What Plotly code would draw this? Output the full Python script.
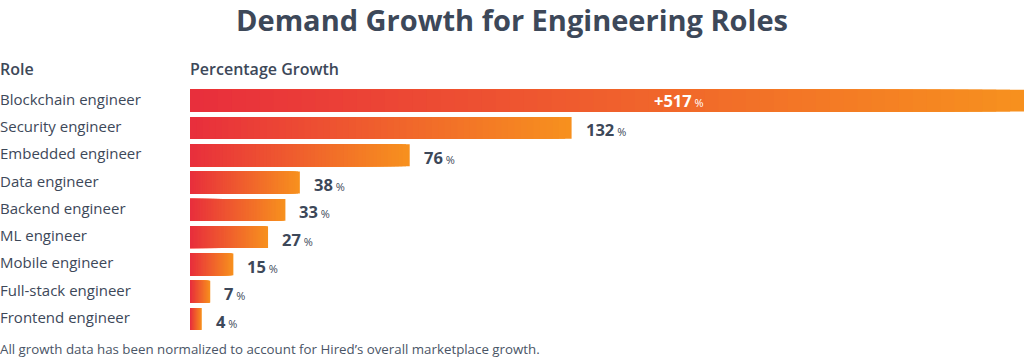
import plotly.graph_objects as go

roles = ["Blockchain engineer", "Security engineer", "Embedded engineer", "Data engineer",
         "Backend engineer", "ML engineer", "Mobile engineer", "Full-stack engineer", "Frontend engineer"]
growth = [517, 132, 76, 38, 33, 27, 15, 7, 4]
value_labels = ["+517", "132", "76", "38", "33", "27", "15", "7", "4"]

TITLE = "Demand Growth for Engineering Roles"
FOOTNOTE = "All growth data has been normalized to account for Hired\u2019s overall marketplace growth."
X_MAX = 288.5  # visible axis range; the blockchain bar runs off the edge

RED = (232, 46, 60)
ORANGE = (247, 145, 30)
TEXT = "#3d4859"
FONT = "Open Sans"


def mix(t):
    c = [round(RED[i] + (ORANGE[i] - RED[i]) * t) for i in range(3)]
    return f"rgb({c[0]},{c[1]},{c[2]})"


visible = [min(v, X_MAX) for v in growth]
N = 60
fig = go.Figure()
for k in range(N):
    frac = (N - k) / N
    fig.add_trace(go.Bar(
        y=roles, x=[v * frac for v in visible], orientation="h",
        marker=dict(color=mix((N - k - 0.5) / N), line=dict(width=0)),
        width=0.8, hoverinfo="skip", showlegend=False,
    ))

ann = []
for r, v, lab in zip(roles, growth, value_labels):
    txt = f"<b>{lab}</b><span style='font-size:11px'> %</span>"
    if v > X_MAX:
        ann.append(dict(x=(652 - 190) / 834 * X_MAX, y=r, xref="x", yref="y", text=txt,
                        showarrow=False, xanchor="left",
                        font=dict(family=FONT, size=16.5, color="white")))
    else:
        ann.append(dict(x=v, y=r, xref="x", yref="y", text=txt, showarrow=False,
                        xanchor="left", xshift=12, yshift=-2,
                        font=dict(family=FONT, size=16.5, color=TEXT)))
    ann.append(dict(x=-190 / 834, y=r, xref="paper", yref="y", text=r, showarrow=False,
                    xanchor="left", xshift=-2, yshift=2, font=dict(family=FONT, size=15, color=TEXT)))

ann.append(dict(x=-190 / 834, y=69, xref="paper", yref="paper", text="Role", showarrow=False,
                xanchor="left", xshift=-2, yanchor="middle",
                font=dict(family=FONT, size=16, color=TEXT, weight=600)))
ann.append(dict(x=0, y=69, xref="paper", yref="paper", text="Percentage Growth", showarrow=False,
                xanchor="left", xshift=-2, yanchor="middle",
                font=dict(family=FONT, size=16, color=TEXT, weight=600)))
ann.append(dict(x=-190 / 834, y=349, xref="paper", yref="paper", text=FOOTNOTE, showarrow=False,
                xanchor="left", xshift=-2, yanchor="middle", font=dict(family=FONT, size=13.3, color="#4a5566")))

# convert pixel y positions for header/footer annotations to paper coords
PT, PB = 87, 27
ph = 360 - PT - PB
for a in ann:
    if a["yref"] == "paper":
        a["y"] = (360 - PB - a["y"]) / ph

fig.update_layout(
    width=1024, height=360,
    margin=dict(l=190, r=0, t=PT, b=PB),
    barmode="overlay",
    paper_bgcolor="white", plot_bgcolor="white",
    title=dict(text=f"<b>{TITLE}</b>", x=0.5, xanchor="center", y=1 - 21 / 360, yanchor="middle",
               font=dict(family=FONT, size=29, color=TEXT)),
    xaxis=dict(range=[0, X_MAX], visible=False, fixedrange=True),
    yaxis=dict(categoryorder="array", categoryarray=roles, autorange="reversed",
               visible=False, fixedrange=True),
    annotations=ann,
)

fig.write_html("out.html", config={"displayModeBar": False},
               post_script="document.body.style.margin='0';document.body.style.overflow='hidden';")
